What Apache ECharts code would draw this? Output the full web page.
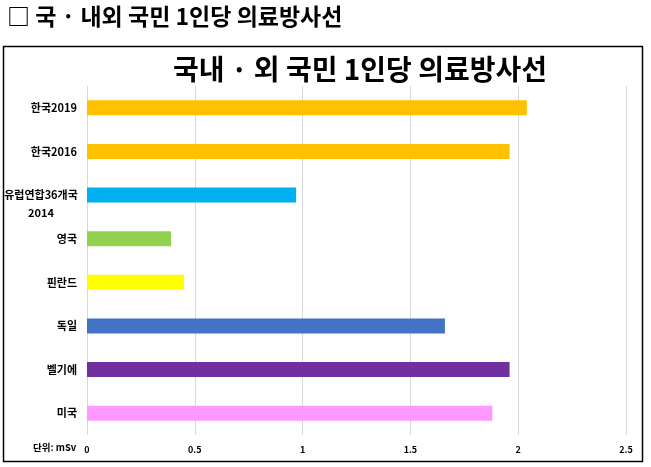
<!DOCTYPE html>
<html><head><meta charset="utf-8">
<script src="https://cdn.jsdelivr.net/npm/echarts@6/dist/echarts.min.js"></script>
<style>html,body{margin:0;padding:0;background:#fff}#c{width:651px;height:467px}</style>
</head><body><div id="c"></div>
<script>
const categories = ['한국2019','한국2016','유럽연합36개국\n2014','영국','핀란드','독일','벨기에','미국'];
const values = [2.04, 1.96, 0.97, 0.39, 0.45, 1.66, 1.96, 1.88];
const barColors = ['#FFC000','#FFC000','#00B0F0','#92D050','#FFFF00','#4472C4','#7030A0','#FF99FF'];
const xTicks = [0, 0.5, 1, 1.5, 2, 2.5];
const pageHeading = '□ 국 · 내외 국민 1인당 의료방사선';
const chartTitle = '국내 · 외 국민 1인당 의료방사선';
const unitLabel = '단위: mSv';

const font = '"Noto Sans CJK KR", "Noto Sans", sans-serif';
const chart = echarts.init(document.getElementById('c'));
chart.setOption({
  animation: false,
  title: [
    {text: pageHeading, left: 2, top: 0, textStyle: {fontFamily: font, fontSize: 23, fontWeight: 'bold', color: '#000'}},
    {text: chartTitle, left: 355, textAlign: 'center', top: 50, textStyle: {fontFamily: font, fontSize: 28, fontWeight: 'bold', color: '#000'}}
  ],
  graphic: [
    {type: 'rect', shape: {x: 3.5, y: 46.5, width: 639, height: 415}, style: {fill: 'none', stroke: '#000', lineWidth: 1.5}, z: 100},
    {type: 'text', left: 33, top: 443, style: {text: unitLabel, font: 'bold 9.5px ' + font, fill: '#000'}}
  ],
  grid: {left: 87, right: 25, top: 86, bottom: 32, containLabel: false},
  xAxis: {
    type: 'value', min: 0, max: 2.5, interval: 0.5,
    axisLine: {show: false}, axisTick: {show: false},
    splitLine: {lineStyle: {color: '#d9d9d9', width: 1}},
    axisLabel: {margin: 10, fontFamily: font, fontSize: 9, fontWeight: 'bold', color: '#000',
      formatter: v => xTicks.includes(v) ? String(v) : ''}
  },
  yAxis: {
    type: 'category', data: categories, inverse: true,
    axisLine: {show: false}, axisTick: {show: false},
    axisLabel: {margin: 10, fontFamily: font, fontSize: 11, fontWeight: 'bold', color: '#000',
      formatter: v => v.includes('\n') ? '{c| }\n' + v.split('\n').map(s => '{c|' + s + '}').join('\n') : v,
      rich: {c: {width: 72, align: 'center', fontFamily: font, fontSize: 11, fontWeight: 'bold', color: '#000', lineHeight: 18}}}
  },
  series: [{
    type: 'bar', barWidth: 15,
    data: values.map((v, i) => ({value: v, itemStyle: {color: barColors[i]}}))
  }]
});
</script></body></html>
